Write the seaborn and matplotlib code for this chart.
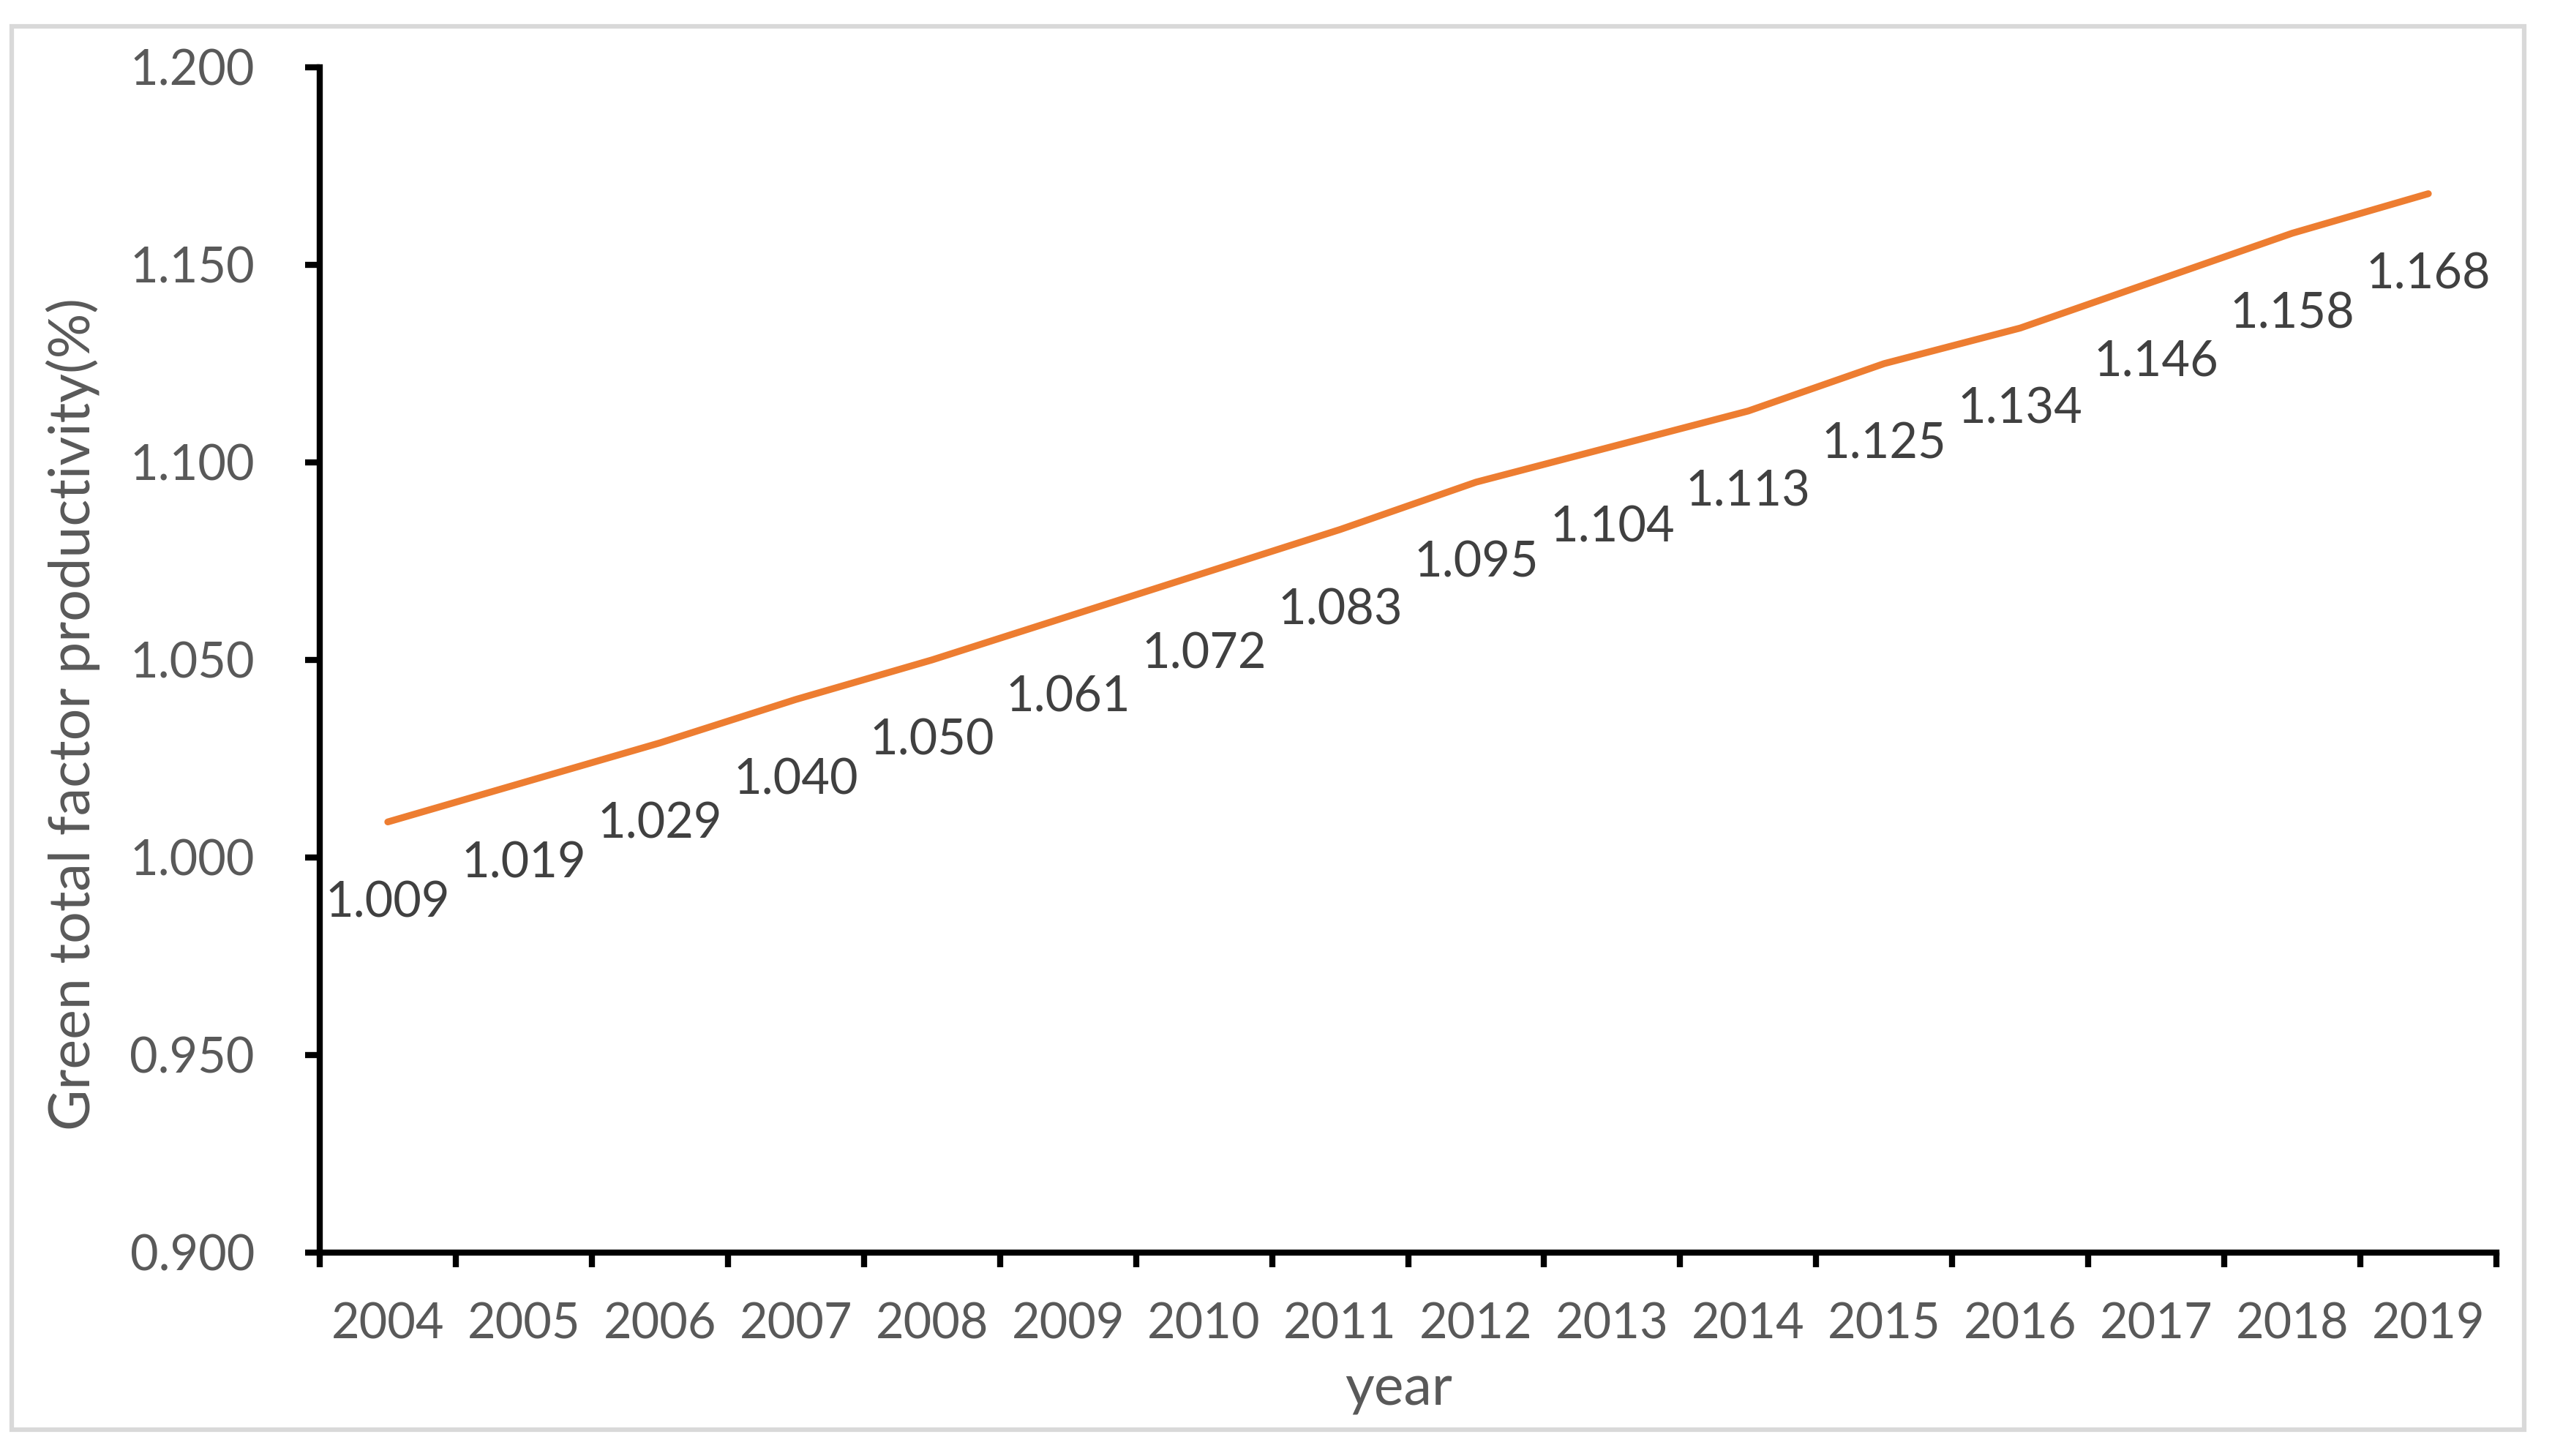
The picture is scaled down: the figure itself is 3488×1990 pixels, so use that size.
import numpy as np
import pandas as pd
import matplotlib
matplotlib.use("Agg")
import matplotlib.pyplot as plt
from matplotlib.patches import Rectangle
from matplotlib.ticker import FixedLocator, FormatStrFormatter
import seaborn as sns

# ---- data ----
years = ["2004", "2005", "2006", "2007", "2008", "2009", "2010", "2011",
         "2012", "2013", "2014", "2015", "2016", "2017", "2018", "2019"]
gtfp = [1.009, 1.019, 1.029, 1.040, 1.050, 1.061, 1.072, 1.083,
        1.095, 1.104, 1.113, 1.125, 1.134, 1.146, 1.158, 1.168]
y_ticks = [0.900, 0.950, 1.000, 1.050, 1.100, 1.150, 1.200]
x_title = "year"
y_title = "Green total factor productivity(%)"

df = pd.DataFrame({"pos": np.arange(len(years)), "year": years, "gtfp": gtfp})

sns.set_style("white")
plt.rcParams["font.family"] = ["Lato", "DejaVu Sans"]

DPI = 300
fig = plt.figure(figsize=(3488 / DPI, 1990 / DPI), dpi=DPI)
ax = fig.add_axes([0.1253, 0.1397, 0.8529, 0.8141])

sns.lineplot(data=df, x="pos", y="gtfp", ax=ax, color="#ED7D31",
             linewidth=2.25, solid_capstyle="round")

# data labels
for xp, v in zip(df["pos"], df["gtfp"]):
    ax.annotate(f"{v:.3f}", (xp, v), xytext=(0, -31.2), textcoords="offset points",
                ha="center", va="baseline", fontsize=16, color="#404040")

# axes limits and ticks
ax.set_xlim(-0.5, len(years) - 0.5)
ax.set_ylim(y_ticks[0], y_ticks[-1])
ax.set_yticks(y_ticks)
ax.yaxis.set_major_formatter(FormatStrFormatter("%.3f"))
ax.set_xticks(df["pos"])
ax.set_xticklabels(years)
ax.xaxis.set_minor_locator(FixedLocator(np.arange(-0.5, len(years), 1.0)))

ax.tick_params(axis="x", which="major", length=0, pad=16.2,
               labelsize=16, labelcolor="#595959")
ax.tick_params(axis="x", which="minor", direction="out", length=4.8, width=2.0,
               color="black", bottom=True)
ax.tick_params(axis="y", which="major", direction="out", length=4.8, width=2.0,
               color="black", pad=16.6, labelsize=16, labelcolor="#595959", left=True)

for side in ["top", "right"]:
    ax.spines[side].set_visible(False)
for side in ["left", "bottom"]:
    ax.spines[side].set_visible(True)
    ax.spines[side].set_color("black")
    ax.spines[side].set_linewidth(2.0)

ax.grid(False)

# axis titles
ax.set_xlabel(x_title, fontsize=18.5, color="#595959")
ax.xaxis.label.set_va("baseline")
ax.xaxis.set_label_coords(0.4958, -0.1284)
ax.set_ylabel(y_title, fontsize=18.5, color="#595959")
ax.yaxis.label.set_va("baseline")
ax.yaxis.set_label_coords(-0.1055, 0.454)

# chart-area border
x0, x1 = 16 / 3488, 3450 / 3488
y0, y1 = 1 - 1954 / 1990, 1 - 36 / 1990
fig.add_artist(Rectangle((x0, y0), x1 - x0, y1 - y0, transform=fig.transFigure,
                         fill=False, edgecolor="#D9D9D9", linewidth=1.5))

fig.savefig("out.png", dpi=DPI)
